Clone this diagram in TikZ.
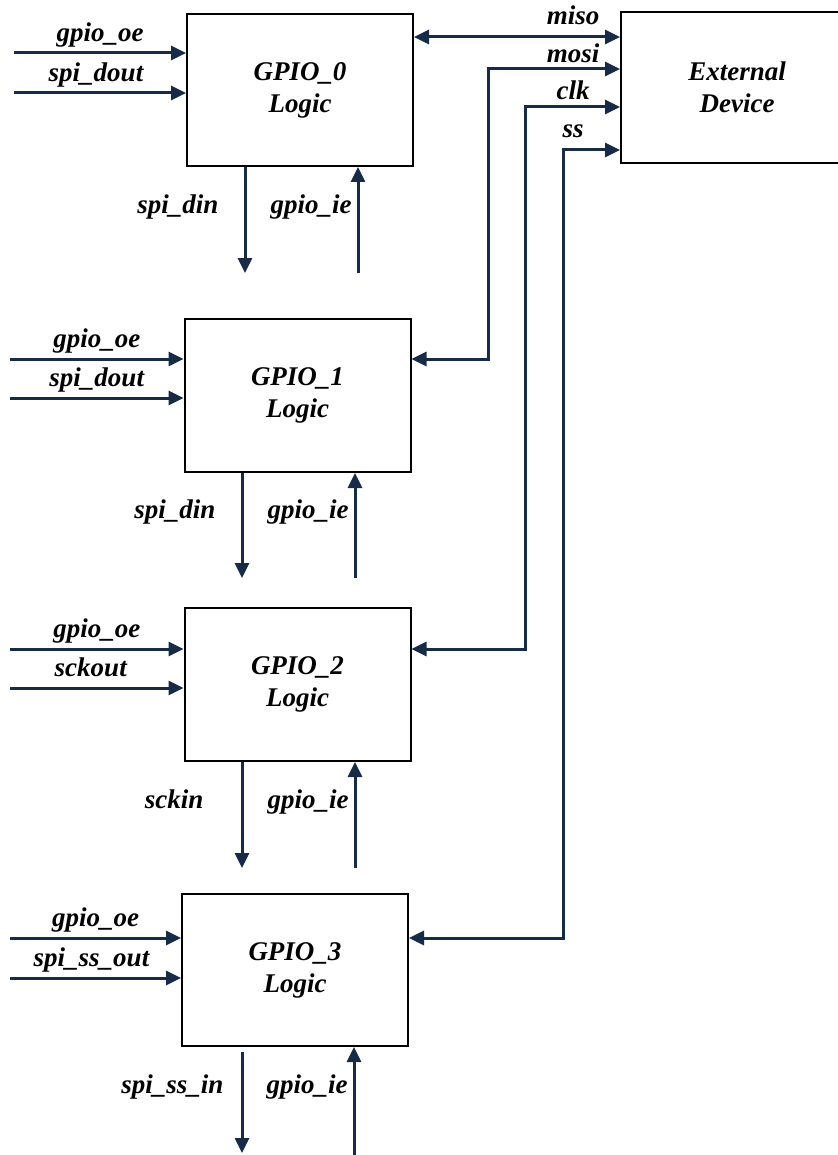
\documentclass[tikz,border=0pt]{standalone}
\usepackage{fontspec}
\setmainfont{Liberation Serif}
\usetikzlibrary{arrows.meta, positioning, calc}
\definecolor{wire}{RGB}{22,43,72}
\newcommand{\sigfont}{\fontsize{13.5}{16}\selectfont\bfseries\itshape}

\begin{document}
\begin{tikzpicture}[x=0.5pt, y=-0.5pt,
    sig/.style={-{Triangle[length=7.5pt, width=7pt]}, line width=1.5pt, draw=wire},
    bus/.style={{Triangle[length=7.5pt, width=7pt]}-{Triangle[length=7.5pt, width=7pt]}, line width=1.5pt, draw=wire},
    block/.style={draw=black, line width=1pt, minimum width=113pt, minimum height=76pt, align=center, font=\sigfont},
    lbl/.style={font=\sigfont, inner sep=1pt, text depth=3.5pt}
]
    \useasboundingbox (0,0) rectangle (838,1155);

    % GPIO blocks and the external device
    \node[block] (g0) at (300,90) {GPIO\_0\\Logic};
    \node[block, minimum height=76.5pt] (g1) at (297.5,395.5) {GPIO\_1\\Logic};
    \node[block, minimum height=76.5pt] (g2) at (297.5,684.5) {GPIO\_2\\Logic};
    \node[block] (g3) at (295,970) {GPIO\_3\\Logic};
    \node[block, minimum width=116pt, minimum height=75.5pt] (ext) at (737,87.5) {External\\Device};

    % GPIO_0 inputs and outputs
    \coordinate (oe0) at (14,53);
    \coordinate (do0) at (14,93);
    \draw[sig] (oe0) -- (oe0 -| g0.west) node[lbl, midway, above=0.5pt] (oe0l) {gpio\_oe};
    \draw[sig] (do0) -- (do0 -| g0.west) node[lbl, midway, above=0.5pt, xshift=-2pt] (do0l) {spi\_dout};
    \coordinate (din0) at (245,273);
    \coordinate (ie0) at (358,273);
    \draw[sig] (din0 |- g0.south) -- (din0) node[lbl, pos=0.38, left=11.5pt] (din0l) {spi\_din};
    \draw[sig] (ie0) -- (ie0 |- g0.south) node[lbl, pos=0.62, left=1.5pt] (ie0l) {gpio\_ie};

    % GPIO_1 inputs and outputs
    \coordinate (oe1) at (10,359);
    \coordinate (do1) at (10,398);
    \draw[sig] (oe1) -- (oe1 -| g1.west) node[lbl, midway, above=0.5pt] (oe1l) {gpio\_oe};
    \draw[sig] (do1) -- (do1 -| g1.west) node[lbl, midway, above=0.5pt] (do1l) {spi\_dout};
    \coordinate (din1) at (242,578);
    \coordinate (ie1) at (355,578);
    \draw[sig] (din1 |- g1.south) -- (din1) node[lbl, pos=0.38, left=11.5pt] (din1l) {spi\_din};
    \draw[sig] (ie1) -- (ie1 |- g1.south) node[lbl, pos=0.62, left=1.5pt] (ie1l) {gpio\_ie};

    % GPIO_2 inputs and outputs
    \coordinate (oe2) at (10,649);
    \coordinate (do2) at (10,688);
    \draw[sig] (oe2) -- (oe2 -| g2.west) node[lbl, midway, above=0.5pt] (oe2l) {gpio\_oe};
    \draw[sig] (do2) -- (do2 -| g2.west) node[lbl, midway, above=0.5pt, xshift=-3pt] (do2l) {sckout};
    \coordinate (din2) at (242,868);
    \coordinate (ie2) at (355,868);
    \draw[sig] (din2 |- g2.south) -- (din2) node[lbl, pos=0.38, left=17.5pt] (din2l) {sckin};
    \draw[sig] (ie2) -- (ie2 |- g2.south) node[lbl, pos=0.62, left=1.5pt] (ie2l) {gpio\_ie};

    % GPIO_3 inputs and outputs
    \coordinate (oe3) at (10,938);
    \coordinate (do3) at (10,978);
    \draw[sig] (oe3) -- (oe3 -| g3.west) node[lbl, midway, above=0.5pt] (oe3l) {gpio\_oe};
    \draw[sig] (do3) -- (do3 -| g3.west) node[lbl, midway, above=0.5pt, xshift=-2pt] (do3l) {spi\_ss\_out};
    \coordinate (din3) at (242,1153);
    \coordinate (ie3) at (354,1155);
    \draw[sig, shorten <=2.5pt] (din3 |- g3.south) -- (din3) node[lbl, pos=0.38, left=7.5pt] (din3l) {spi\_ss\_in};
    \draw[sig] (ie3) -- (ie3 |- g3.south) node[lbl, pos=0.62, left=1.5pt] (ie3l) {gpio\_ie};

    % SPI lines to the external device
    \coordinate (miso) at (520,37);
    \draw[bus] (g0.east |- miso) -- (ext.west |- miso);
    \node[lbl, anchor=base] (misol) at (573,25) {miso};

    \coordinate (mosi) at (488,69);
    \coordinate (mosi1) at (488,359);
    \draw[bus] (ext.west |- mosi) -- (mosi) -- (mosi1) -- (mosi1 -| g1.east);
    \node[lbl, anchor=base] (mosil) at (573,63) {mosi};

    \coordinate (clk) at (525,107);
    \coordinate (clk1) at (525,649);
    \draw[bus] (ext.west |- clk) -- (clk) -- (clk1) -- (clk1 -| g2.east);
    \node[lbl, anchor=base] (clkl) at (573,100) {clk};

    \coordinate (ss) at (563,150);
    \coordinate (ss1) at (563,938);
    \draw[bus] (ext.west |- ss) -- (ss) -- (ss1) -- (ss1 -| g3.east);
    \node[lbl, anchor=base] (ssl) at (573,138) {ss};

\end{tikzpicture}
\end{document}
